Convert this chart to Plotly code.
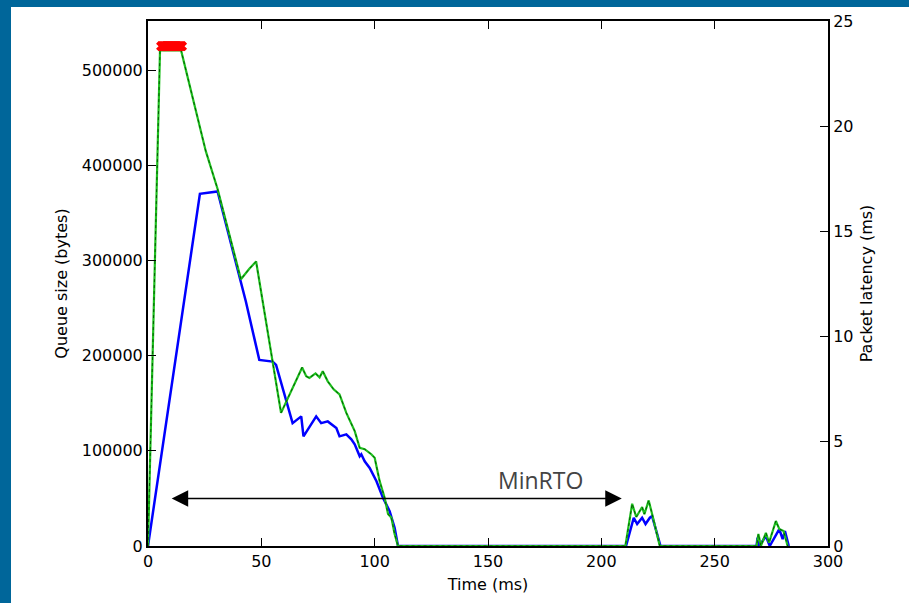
import plotly.graph_objects as go

# ---- data ----
latency_t = [0, 5.3, 14.6, 25.5, 30.7, 41.0, 44.7, 47.7, 58.7, 68.0, 69.8, 71.2, 73.9, 75.7, 77.1,
             79.3, 81.9, 84.5, 87.5, 91.2, 93.4, 95.6, 98.5, 100.0, 102.2, 104.4, 105.9, 107.4,
             108.8, 110.3, 210.6, 213.6, 215.4, 218.0, 219.0, 220.9, 222.4, 225.8, 268.5, 269.3,
             270.4, 272.6, 274.0, 277.0, 278.5, 280.4, 282.2]
latency_ms = [0, 23.6, 23.6, 18.8, 17.0, 12.7, 13.2, 13.55, 6.34, 8.5, 8.08, 8.0, 8.22, 8.03, 8.32,
              7.84, 7.46, 7.22, 6.34, 5.47, 4.67, 4.61, 4.37, 4.2, 3.09, 2.3, 1.52, 1.34,
              0.57, 0, 0, 2.01, 1.38, 1.85, 1.52, 2.17, 1.52, 0, 0, 0.57,
              0, 0.63, 0.16, 1.19, 0.81, 0.71, 0]

queue_t = [0, 22.9, 30.7, 41.0, 43.2, 49.1, 55.0, 56.5, 63.8, 67.6, 68.6, 74.2, 76.4, 79.3, 83.1,
           84.5, 87.5, 89.7, 91.2, 93.4, 94.1, 95.6, 97.8, 100.8, 103.7, 106.6, 108.8, 110.3,
           210.9, 214.3, 215.8, 218.0, 219.5, 221.4, 222.4, 226.1,
           268.5, 268.9, 269.7, 272.6, 274.3, 278.5, 280.0, 281.0, 282.7]
queue_bytes = [0, 370300, 372800, 277800, 256800, 195700, 193900, 190500, 129200, 136300, 115300,
               136300, 129200, 131000, 124000, 115300, 117400, 112200, 106900, 94300, 96400, 89100,
               82100, 68100, 50600, 36700, 19200, 0,
               0, 29700, 23100, 29700, 23100, 29700, 31400, 0,
               0, 8700, 0, 10500, 0, 17800, 7300, 15700, 0]

drop_t = [5.8, 6.2, 6.6, 7.0, 7.4, 7.8, 8.2, 8.6, 9.0, 9.4, 9.8, 10.2, 10.6, 11.0, 11.4, 11.8,
          12.2, 12.6, 13.0, 13.4, 13.8, 14.2, 14.6, 15.0]
drop_ms = [23.8] * len(drop_t)

minrto_start, minrto_end, minrto_level = 9.8, 209.0, 50000

x_ticks = [0, 50, 100, 150, 200, 250, 300]
y_ticks = [0, 100000, 200000, 300000, 400000, 500000]
y2_ticks = [0, 5, 10, 15, 20, 25]

W, H = 909, 603
L, R, T, B = 148, 81, 18, 57
pw, ph = W - L - R, H - T - B

fig = go.Figure()
fig.add_trace(go.Scatter(x=latency_t, y=latency_ms, yaxis="y2", mode="lines",
                         line=dict(color="#1fc01f", width=2.2), hoverinfo="skip"))
fig.add_trace(go.Scatter(x=latency_t, y=latency_ms, yaxis="y2", mode="lines",
                         line=dict(color="#005f00", width=1, dash="dot"), hoverinfo="skip"))
fig.add_trace(go.Scatter(x=queue_t, y=queue_bytes, yaxis="y", mode="lines",
                         line=dict(color="#0000ff", width=2.5), hoverinfo="skip"))
fig.add_trace(go.Scatter(x=drop_t, y=drop_ms, yaxis="y2", mode="markers",
                         marker=dict(symbol="x", size=9, color="#ff0000", line=dict(width=0)),
                         hoverinfo="skip"))

font = dict(family="DejaVu Sans", size=16, color="black")

fig.add_annotation(x=minrto_end, y=minrto_level, ax=minrto_start, ay=minrto_level,
                   xref="x", yref="y", axref="x", ayref="y", text="", showarrow=True,
                   arrowhead=2, arrowside="end+start", arrowsize=2.2, arrowwidth=1.5,
                   arrowcolor="black")
fig.add_annotation(x=173, y=50000, xref="x", yref="y", text="MinRTO", showarrow=False,
                   yanchor="bottom", yshift=0,
                   font=dict(family="Open Sans", size=23, color="#444444"))

# border stripes
bx = lambda px: (px - L) / pw
by = lambda py: 1 - (py - T) / ph
fig.add_shape(type="rect", xref="paper", yref="paper", x0=bx(-5), x1=bx(11), y0=by(H + 5), y1=by(-5),
              fillcolor="#00669a", line_width=0)
fig.add_shape(type="rect", xref="paper", yref="paper", x0=bx(-5), x1=bx(W + 5), y0=by(4), y1=by(-5),
              fillcolor="#00669a", line_width=0)

axis_common = dict(showgrid=False, zeroline=False, showline=True, linecolor="black", linewidth=2,
                   ticks="inside", ticklen=8, tickwidth=1, tickcolor="black", tickfont=font)

fig.update_layout(
    width=W, height=H, margin=dict(l=L, r=R, t=T, b=B),
    paper_bgcolor="white", plot_bgcolor="white", showlegend=False,
    xaxis=dict(range=[0, 300], tickvals=x_ticks, mirror="ticks",
               title=dict(text="Time (ms)", font=font, standoff=9), **axis_common),
    yaxis=dict(range=[0, 552000], tickvals=y_ticks, tickformat="d",
               title=dict(text="Queue size (bytes)", font=font, standoff=10), **axis_common),
    yaxis2=dict(range=[0, 25], tickvals=y2_ticks, overlaying="y", side="right",
                title=dict(text="Packet latency (ms)", font=font, standoff=8), **axis_common),
)

fig.write_html("out.html", config={"displayModeBar": False},
               post_script="document.body.style.margin='0';")
